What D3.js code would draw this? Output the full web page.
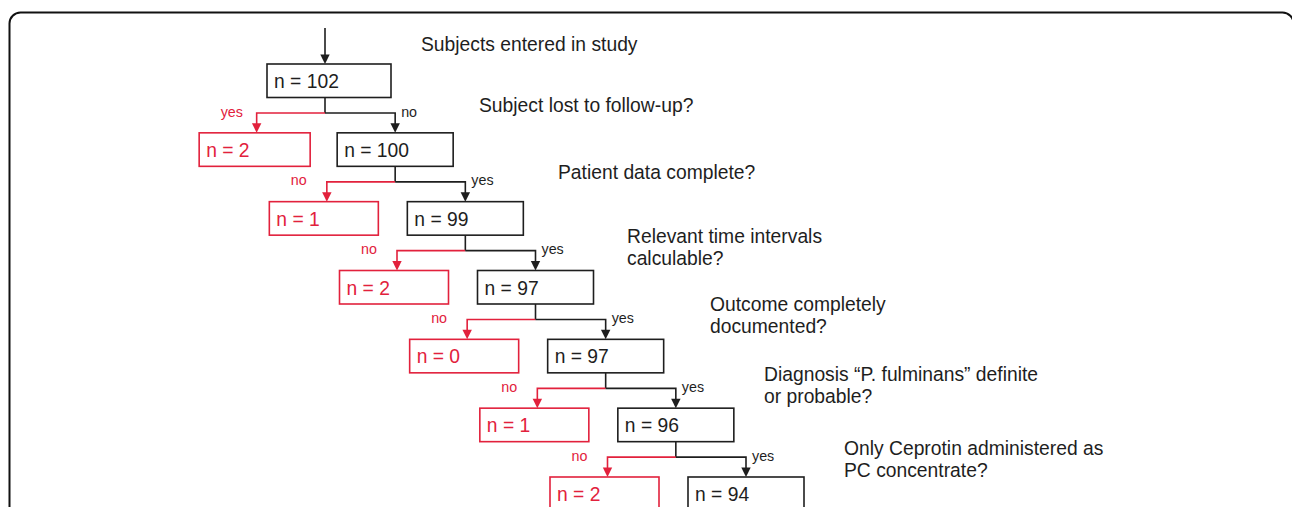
<!DOCTYPE html>
<html>
<head>
<meta charset="utf-8">
<script src="https://cdn.jsdelivr.net/npm/d3@7/dist/d3.min.js"></script>
<style>
  html, body { margin: 0; padding: 0; background: #fff; }
  svg { display: block; }
  text { font-family: "Liberation Sans", Arial, Helvetica, sans-serif; }
</style>
</head>
<body>
<svg id="chart" width="1292" height="507"></svg>
<script>
// ---- data ----
const questions = [
  "Subjects entered in study",
  "Subject lost to follow-up?",
  "Patient data complete?",
  "Relevant time intervals\ncalculable?",
  "Outcome completely\ndocumented?",
  "Diagnosis \u201CP. fulminans\u201D definite\nor probable?",
  "Only Ceprotin administered as\nPC concentrate?"
];
const remaining = [102, 100, 99, 97, 97, 96, 94];
const excluded = [2, 1, 2, 0, 1, 2];
const excludeLabels = ["yes", "no", "no", "no", "no", "no"];
const continueLabels = ["no", "yes", "yes", "yes", "yes", "yes"];

// ---- layout (not data) ----
const questionPos = [[421, 51], [479, 112.3], [558, 179], [627, 242.7], [710, 310.7], [764, 381], [844, 455]];
const RED = "#e2213c";
const INK = "#1e1e1e";

const svg = d3.select("#chart");
const levels = d3.range(remaining.length);
const x = d3.scaleLinear().domain([0, remaining.length - 1]).range([267, 688]);
const y = d3.scaleLinear().domain([0, remaining.length - 1]).range([64, 477]);
const boxH = 33.5;
const boxW = i => i === 0 ? 124 : 116;
const redW = i => i === 1 ? 111 : 109;
const stemX = i => x(i) + 58;
const redLeft = i => x(i) - 138;
const redArrowX = i => redLeft(i) + 57.5;
const branchY = i => y(i) + 49;
const FS = 19.3;

// outer frame
svg.append("rect")
  .attr("x", 9.5).attr("y", 12.5)
  .attr("width", 1284).attr("height", 520)
  .attr("rx", 11).attr("ry", 11)
  .attr("fill", "none").attr("stroke", "#111").attr("stroke-width", 2);

function arrowHead(g, ax, tipY, color) {
  g.append("path")
    .attr("d", `M${ax - 4.7},${tipY - 9.5} L${ax + 4.7},${tipY - 9.5} L${ax},${tipY} Z`)
    .attr("fill", color);
}

const g = svg.append("g");

// entry arrow
g.append("line")
  .attr("x1", stemX(0)).attr("x2", stemX(0))
  .attr("y1", 28).attr("y2", y(0) - 8)
  .attr("stroke", INK).attr("stroke-width", 1.6);
arrowHead(g, stemX(0), y(0), INK);

// branches
levels.slice(1).forEach(i => {
  const p = i - 1;
  const by = branchY(p);
  const sx = stemX(p);
  const rx = redArrowX(i);
  const bx = stemX(i);
  g.append("line").attr("x1", sx).attr("x2", sx)
    .attr("y1", y(p) + boxH).attr("y2", by)
    .attr("stroke", INK).attr("stroke-width", 1.6);
  g.append("path")
    .attr("d", `M${sx},${by} H${rx} V${y(i) - 8}`)
    .attr("fill", "none").attr("stroke", RED).attr("stroke-width", 1.6);
  arrowHead(g, rx, y(i), RED);
  g.append("path")
    .attr("d", `M${sx},${by} H${bx} V${y(i) - 8}`)
    .attr("fill", "none").attr("stroke", INK).attr("stroke-width", 1.6);
  arrowHead(g, bx, y(i), INK);
  g.append("text").attr("x", rx - 36).attr("y", by + 3.5)
    .attr("font-size", 14.3).attr("fill", RED).text(excludeLabels[p]);
  g.append("text").attr("x", bx + 6).attr("y", by + 3.5)
    .attr("font-size", 14.3).attr("fill", INK).text(continueLabels[p]);
  g.append("rect").attr("x", redLeft(i)).attr("y", y(i))
    .attr("width", redW(i)).attr("height", boxH)
    .attr("fill", "#fff").attr("stroke", RED).attr("stroke-width", 1.6);
  g.append("text").attr("x", redLeft(i) + 7).attr("y", y(i) + 24)
    .attr("font-size", FS).attr("fill", RED).text("n = " + excluded[p]);
});

// black boxes
levels.forEach(i => {
  g.append("rect").attr("x", x(i)).attr("y", y(i))
    .attr("width", boxW(i)).attr("height", boxH)
    .attr("fill", "#fff").attr("stroke", INK).attr("stroke-width", 1.6);
  g.append("text").attr("x", x(i) + 7).attr("y", y(i) + 24)
    .attr("font-size", FS).attr("fill", INK).text("n = " + remaining[i]);
});

// questions
questions.forEach((q, i) => {
  const t = g.append("text")
    .attr("x", questionPos[i][0]).attr("y", questionPos[i][1])
    .attr("font-size", FS).attr("fill", INK);
  q.split("\n").forEach((line, k) => {
    t.append("tspan").attr("x", questionPos[i][0]).attr("dy", k === 0 ? 0 : 22).text(line);
  });
});
</script>
</body>
</html>
